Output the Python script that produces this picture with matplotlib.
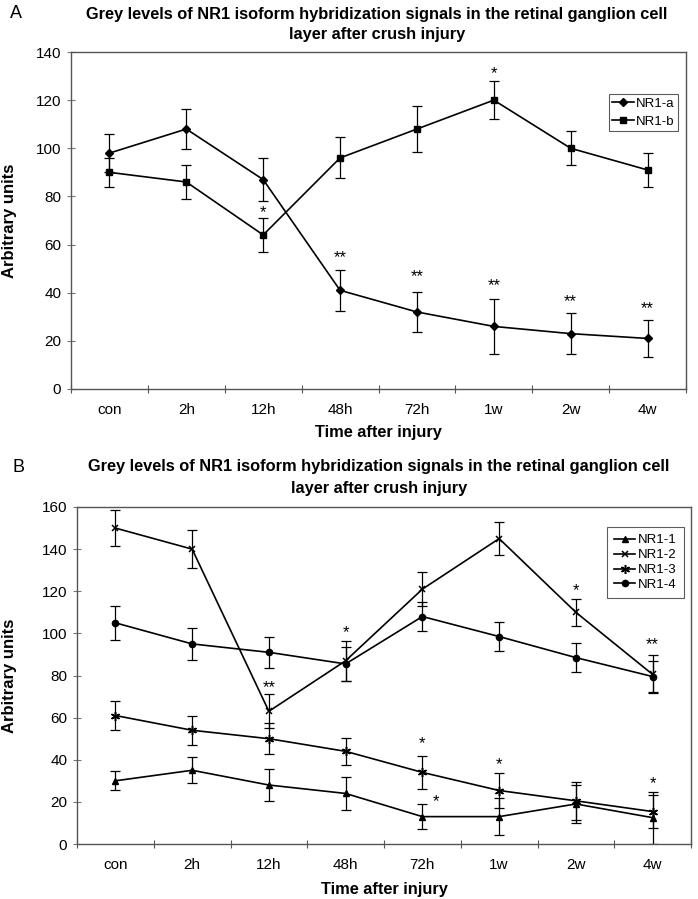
import matplotlib
matplotlib.use("Agg")
import matplotlib.pyplot as plt

plt.rcParams['font.family'] = ['Liberation Sans', 'DejaVu Sans']

times = ['con', '2h', '12h', '48h', '72h', '1w', '2w', '4w']

# panel A
nr1a = [98, 108, 87, 41, 32, 26, 23, 21]
nr1a_err = [8, 8.2, 9, 8.6, 8.5, 11.3, 8.6, 7.8]
nr1b = [90, 86, 64, 96, 108, 120, 100, 91]
nr1b_err = [6, 7.1, 7, 8.5, 9.5, 8, 7.1, 7]
stars_a = [('*', 2, 75.4), ('*', 5, 133), ('**', 3, 56.7), ('**', 4, 49),
           ('**', 5, 45), ('**', 6, 38.3), ('**', 7, 35.5)]

# panel B
nr1_1 = [30, 35, 28, 24, 13, 13, 19, 12.5]
nr1_1_err = [4.5, 6.2, 7.5, 7.7, 5.8, 8.8, 9, 12.3]
nr1_2 = [150, 140, 63, 87, 121, 145, 110, 80.5]
nr1_2_err = [8.7, 9, 8, 9.5, 8, 7.7, 6.5, 9]
nr1_3 = [61, 54, 50, 44, 34, 25.4, 20.5, 15.4]
nr1_3_err = [7.1, 7, 7.3, 6.4, 8, 8.2, 9, 8]
nr1_4 = [105, 95, 91, 85.5, 108, 98.5, 88.5, 79.5]
nr1_4_err = [8, 7.7, 7.5, 8, 7, 7, 7, 7.5]
stars_b = [('**', 2, 76.7), ('*', 3, 102.8), ('*', 6, 122.8), ('**', 7, 97),
           ('*', 4, 50.2), ('*', 4.18, 22.5), ('*', 5, 40), ('*', 7, 31)]

W, H = 698, 899
fig = plt.figure(figsize=(W / 100, H / 100), dpi=100)

TITLE = 'Grey levels of NR1 isoform hybridization signals in the retinal ganglion cell'


def box(l, r, t, b):
    return [l / W, 1 - b / H, (r - l) / W, (b - t) / H]


def style_axes(ax, ymax, ystep, ylab_x, xlab_pad):
    x = range(len(times))
    ax.set_xlim(-0.5, len(times) - 0.5)
    ax.set_ylim(0, ymax)
    ax.set_yticks(range(0, ymax + 1, ystep))
    ax.set_xticks([i - 0.5 for i in range(len(times) + 1)])
    ax.set_xticklabels([])
    ax.set_xticks(list(x), minor=True)
    ax.set_xticklabels(times, minor=True, fontsize=11)
    ax.tick_params(axis='x', which='minor', length=0, pad=10)
    ax.tick_params(axis='x', which='major', direction='inout', length=6,
                   color='#555555')
    ax.tick_params(axis='y', direction='inout', length=6, color='#777777',
                   labelsize=11, pad=4)
    for s in ax.spines.values():
        s.set_color('#555555')
        s.set_linewidth(1.0)
    ax.set_xlabel('Time after injury', fontsize=11.8, fontweight='bold',
                  labelpad=xlab_pad)
    ax.set_ylabel('Arbitrary units', fontsize=12, fontweight='bold')
    ax.yaxis.set_label_coords(ylab_x, 0.5)


def series(ax, y, err, marker, label, ms=4.5, mew=1.0):
    x = range(len(times))
    ax.errorbar(x, y, yerr=err, fmt='none', ecolor='black',
                elinewidth=0.9, capsize=3.5, capthick=0.9)
    ax.plot(x, y, color='black', lw=1.2, marker=marker, ms=ms, mew=mew,
            mfc='black', mec='black', label=label)


def stars(ax, items):
    for s, xi, yv in items:
        ax.annotate(s, (xi, yv), xytext=(0, -7), textcoords='offset points',
                    ha='center', va='baseline', fontsize=12)


def legend(ax, anchor, spacing, pad):
    leg = ax.legend(loc='upper right', bbox_to_anchor=anchor, borderaxespad=0,
                    fontsize=9.5, frameon=True, fancybox=False,
                    edgecolor='#333333', handlelength=1.6, handletextpad=0.2,
                    labelspacing=spacing, borderpad=pad)
    leg.get_frame().set_linewidth(0.8)


# ---- panel A
axA = fig.add_axes(box(71, 686, 52, 389))
series(axA, nr1a, nr1a_err, 'D', 'NR1-a', ms=4)
series(axA, nr1b, nr1b_err, 's', 'NR1-b', ms=4.5)
stars(axA, stars_a)
style_axes(axA, 140, 20, -0.088, 6)
legend(axA, (0.987, 0.875), 0.45, 0.25)

fig.text(10 / W, 1 - 14 / H, 'A', fontsize=13, ha='left', va='center')
fig.text(377 / W, 1 - 14 / H, TITLE,
         fontsize=11.8, fontweight='bold', ha='center', va='center')
fig.text(377 / W, 1 - 35 / H, 'layer after crush injury',
         fontsize=11.8, fontweight='bold', ha='center', va='center')

# ---- panel B
axB = fig.add_axes(box(77, 691, 507, 844))
series(axB, nr1_1, nr1_1_err, '^', 'NR1-1', ms=4.5)
series(axB, nr1_2, nr1_2_err, 'x', 'NR1-2', ms=5, mew=1.1)
series(axB, nr1_3, nr1_3_err, (6, 2, 0), 'NR1-3', ms=6.5, mew=1.1)
series(axB, nr1_4, nr1_4_err, 'o', 'NR1-4', ms=4.5)
stars(axB, stars_b)
style_axes(axB, 160, 20, -0.097, 7)
legend(axB, (0.9886, 0.9407), 0.2, 0.55)

fig.text(13 / W, 1 - 468 / H, 'B', fontsize=13, ha='left', va='center')
fig.text(379 / W, 1 - 467 / H, TITLE,
         fontsize=11.8, fontweight='bold', ha='center', va='center')
fig.text(379 / W, 1 - 488 / H, 'layer after crush injury',
         fontsize=11.8, fontweight='bold', ha='center', va='center')

fig.savefig('out.png', dpi=100)
